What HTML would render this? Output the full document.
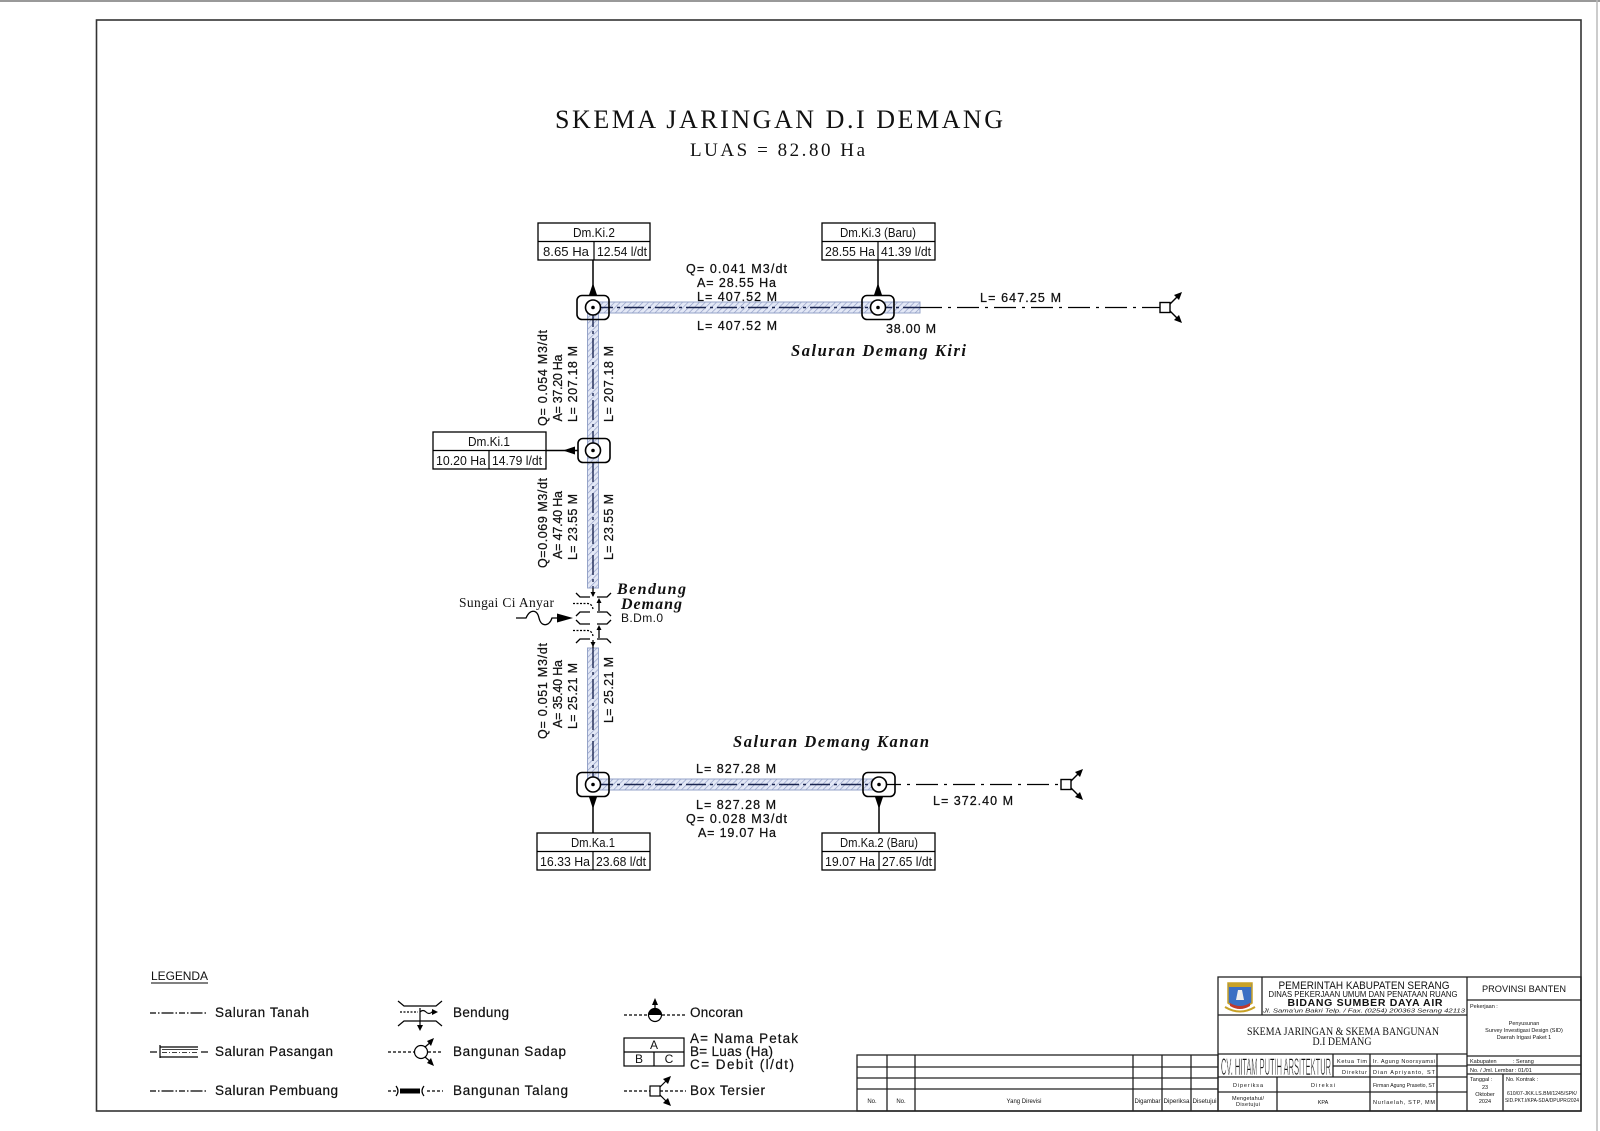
<!DOCTYPE html>
<html><head><meta charset="utf-8"><style>
html,body{margin:0;padding:0;background:#fff;}
svg{display:block;}
text{font-family:"Liberation Sans",sans-serif;fill:#111;}
.s{font-family:"Liberation Serif",serif;}
.it{font-family:"Liberation Serif",serif;font-style:italic;font-weight:bold;}
</style></head><body>
<svg width="1600" height="1131" viewBox="0 0 1600 1131" xmlns="http://www.w3.org/2000/svg">
<defs>
<pattern id="h" width="4" height="4" patternUnits="userSpaceOnUse" patternTransform="rotate(45)">
<rect width="4" height="4" fill="#e3e8f6"/><line x1="0" y1="0" x2="0" y2="4" stroke="#8f9cc4" stroke-width="1.3"/></pattern>
</defs>
<rect width="1600" height="1131" fill="#fff"/>
<line x1="0" y1="1" x2="1600" y2="1" stroke="#999" stroke-width="2"/>
<line x1="1597" y1="0" x2="1597" y2="1131" stroke="#bbb" stroke-width="1.5"/>
<!-- frame -->
<rect x="96.5" y="20" width="1484.5" height="1091" fill="none" stroke="#333" stroke-width="1.6"/>

<!-- title -->
<text class="s" x="555" y="128" font-size="26" textLength="448" lengthAdjust="spacing">SKEMA JARINGAN D.I DEMANG</text>
<text class="s" x="690" y="156" font-size="19" textLength="175" lengthAdjust="spacing">LUAS = 82.80 Ha</text>

<!-- channels -->
<rect x="592" y="302" width="328" height="11" fill="url(#h)" stroke="#95a3c8" stroke-width="1"/>
<rect x="587.5" y="307" width="11" height="281" fill="url(#h)" stroke="#95a3c8" stroke-width="1"/>
<rect x="587.5" y="648" width="11" height="137" fill="url(#h)" stroke="#95a3c8" stroke-width="1"/>
<rect x="593" y="779" width="286" height="11" fill="url(#h)" stroke="#95a3c8" stroke-width="1"/>
<g stroke="#1a2550" stroke-width="1.4" fill="none" stroke-dasharray="20 4 3 4">
<line x1="593" y1="307.5" x2="920" y2="307.5"/>
<line x1="593" y1="307" x2="593" y2="588"/>
<line x1="593" y1="648" x2="593" y2="784"/>
<line x1="593" y1="784.5" x2="879" y2="784.5"/>
</g>
<g stroke="#000" stroke-width="1.2" fill="none" stroke-dasharray="22 6 3 6">
<line x1="920" y1="307.5" x2="1160" y2="307.5"/>
<line x1="879" y1="784.5" x2="1061" y2="784.5"/>
</g>

<!-- nodes -->
<g stroke="#000" stroke-width="1.6">
<rect x="577" y="295.5" width="32" height="24" rx="5" fill="none"/>
<rect x="862" y="295.5" width="32" height="24" rx="5" fill="none"/>
<rect x="578" y="438.5" width="32" height="24" rx="5" fill="none"/>
<rect x="577" y="772.5" width="32" height="24" rx="5" fill="none"/>
<rect x="863" y="772.5" width="32" height="24" rx="5" fill="none"/>
<circle cx="593" cy="307.5" r="7.5" fill="#fff"/>
<circle cx="878" cy="307.5" r="7.5" fill="#fff"/>
<circle cx="593" cy="450.5" r="7.5" fill="#fff"/>
<circle cx="593" cy="784.5" r="7.5" fill="#fff"/>
<circle cx="879" cy="784.5" r="7.5" fill="#fff"/>
</g>
<g fill="#000">
<circle cx="593" cy="307.5" r="1.8"/><circle cx="878" cy="307.5" r="1.8"/><circle cx="593" cy="450.5" r="1.8"/><circle cx="593" cy="784.5" r="1.8"/><circle cx="879" cy="784.5" r="1.8"/>
</g>

<!-- arrows to boxes -->
<g stroke="#000" stroke-width="1.5">
<line x1="593" y1="260" x2="593" y2="295"/>
<line x1="878" y1="260" x2="878" y2="295"/>
<line x1="546" y1="450.5" x2="578" y2="450.5"/>
<line x1="593" y1="797" x2="593" y2="833"/>
<line x1="879" y1="797" x2="879" y2="833"/>
</g>
<g fill="#000">
<polygon points="593,283 589,295 597,295"/>
<polygon points="878,283 874,295 882,295"/>
<polygon points="563,450.5 575,446.5 575,454.5"/>
<polygon points="593,809 589,797 597,797"/>
<polygon points="879,809 875,797 883,797"/>
</g>

<!-- boxes -->
<g stroke="#000" stroke-width="1.3" fill="#fff">
<rect x="538" y="223" width="112" height="37"/>
<rect x="822" y="223" width="113" height="37"/>
<rect x="433" y="432" width="113" height="37"/>
<rect x="537" y="833" width="113" height="37"/>
<rect x="822" y="833" width="113" height="37"/>
</g>
<g stroke="#000" stroke-width="1.2">
<line x1="538" y1="241.5" x2="650" y2="241.5"/><line x1="594" y1="241.5" x2="594" y2="260"/>
<line x1="822" y1="241.5" x2="935" y2="241.5"/><line x1="878" y1="241.5" x2="878" y2="260"/>
<line x1="433" y1="450.5" x2="546" y2="450.5"/><line x1="489" y1="450.5" x2="489" y2="469"/>
<line x1="537" y1="851.5" x2="650" y2="851.5"/><line x1="593" y1="851.5" x2="593" y2="870"/>
<line x1="822" y1="851.5" x2="935" y2="851.5"/><line x1="879" y1="851.5" x2="879" y2="870"/>
</g>
<g font-size="13" text-anchor="middle">
<text x="594" y="237" textLength="42" lengthAdjust="spacingAndGlyphs">Dm.Ki.2</text>
<text x="566" y="256" textLength="46" lengthAdjust="spacingAndGlyphs">8.65 Ha</text>
<text x="622" y="256" textLength="50" lengthAdjust="spacingAndGlyphs">12.54 l/dt</text>
<text x="878" y="237" textLength="76" lengthAdjust="spacingAndGlyphs">Dm.Ki.3 (Baru)</text>
<text x="850" y="256" textLength="50" lengthAdjust="spacingAndGlyphs">28.55 Ha</text>
<text x="906" y="256" textLength="50" lengthAdjust="spacingAndGlyphs">41.39 l/dt</text>
<text x="489" y="446" textLength="42" lengthAdjust="spacingAndGlyphs">Dm.Ki.1</text>
<text x="461" y="465" textLength="50" lengthAdjust="spacingAndGlyphs">10.20 Ha</text>
<text x="517" y="465" textLength="50" lengthAdjust="spacingAndGlyphs">14.79 l/dt</text>
<text x="593" y="847" textLength="44" lengthAdjust="spacingAndGlyphs">Dm.Ka.1</text>
<text x="565" y="866" textLength="50" lengthAdjust="spacingAndGlyphs">16.33 Ha</text>
<text x="621" y="866" textLength="50" lengthAdjust="spacingAndGlyphs">23.68 l/dt</text>
<text x="879" y="847" textLength="78" lengthAdjust="spacingAndGlyphs">Dm.Ka.2 (Baru)</text>
<text x="850" y="866" textLength="50" lengthAdjust="spacingAndGlyphs">19.07 Ha</text>
<text x="907" y="866" textLength="50" lengthAdjust="spacingAndGlyphs">27.65 l/dt</text>
</g>

<!-- box tersier -->
<g stroke="#000" stroke-width="1.4" fill="#fff">
<rect x="1160" y="302.5" width="10" height="10"/>
<rect x="1061" y="779.5" width="10" height="10"/>
<line x1="1170" y1="304" x2="1178" y2="296"/><line x1="1170" y1="311" x2="1178" y2="319"/>
<line x1="1071" y1="781" x2="1079" y2="773"/><line x1="1071" y1="788" x2="1079" y2="796"/>
</g>
<g fill="#000">
<polygon points="1182,292 1174,295 1179,300"/><polygon points="1182,323 1174,320 1179,315"/>
<polygon points="1083,769 1075,772 1080,777"/><polygon points="1083,800 1075,797 1080,792"/>
</g>

<!-- labels -->
<g font-size="12.5" stroke="#111" stroke-width="0.25">
<text x="686" y="273" textLength="101" lengthAdjust="spacing">Q= 0.041 M3/dt</text>
<text x="697" y="287" textLength="79" lengthAdjust="spacing">A= 28.55 Ha</text>
<text x="697" y="301" textLength="80" lengthAdjust="spacing">L= 407.52 M</text>
<text x="697" y="330" textLength="80" lengthAdjust="spacing">L= 407.52 M</text>
<text x="886" y="333" textLength="50" lengthAdjust="spacing">38.00 M</text>
<text x="980" y="302" textLength="81" lengthAdjust="spacing">L= 647.25 M</text>
<text x="696" y="773" textLength="80" lengthAdjust="spacing">L= 827.28 M</text>
<text x="696" y="809" textLength="80" lengthAdjust="spacing">L= 827.28 M</text>
<text x="686" y="823" textLength="101" lengthAdjust="spacing">Q= 0.028 M3/dt</text>
<text x="698" y="837" textLength="78" lengthAdjust="spacing">A= 19.07 Ha</text>
<text x="933" y="805" textLength="80" lengthAdjust="spacing">L= 372.40 M</text>
<g text-anchor="middle">
<text transform="translate(547,378) rotate(-90)" textLength="96" lengthAdjust="spacing">Q= 0.054 M3/dt</text>
<text transform="translate(562,388) rotate(-90)" textLength="67" lengthAdjust="spacing">A= 37.20 Ha</text>
<text transform="translate(577,384) rotate(-90)" textLength="76" lengthAdjust="spacing">L= 207.18 M</text>
<text transform="translate(613,384) rotate(-90)" textLength="76" lengthAdjust="spacing">L= 207.18 M</text>
<text transform="translate(547,523) rotate(-90)" textLength="90" lengthAdjust="spacing">Q=0.069 M3/dt</text>
<text transform="translate(562,525) rotate(-90)" textLength="68" lengthAdjust="spacing">A= 47.40 Ha</text>
<text transform="translate(577,527) rotate(-90)" textLength="66" lengthAdjust="spacing">L= 23.55 M</text>
<text transform="translate(613,527) rotate(-90)" textLength="66" lengthAdjust="spacing">L= 23.55 M</text>
<text transform="translate(547,691) rotate(-90)" textLength="96" lengthAdjust="spacing">Q= 0.051 M3/dt</text>
<text transform="translate(562,694) rotate(-90)" textLength="68" lengthAdjust="spacing">A= 35.40 Ha</text>
<text transform="translate(577,696) rotate(-90)" textLength="66" lengthAdjust="spacing">L= 25.21 M</text>
<text transform="translate(613,690) rotate(-90)" textLength="66" lengthAdjust="spacing">L= 25.21 M</text>
</g>
</g>
<text class="it" x="791" y="356" font-size="16.5" textLength="175" lengthAdjust="spacing">Saluran Demang Kiri</text>
<text class="it" x="733" y="747" font-size="16.5" textLength="196" lengthAdjust="spacing">Saluran Demang Kanan</text>
<text class="it" x="617" y="594" font-size="16" textLength="69" lengthAdjust="spacing">Bendung</text>
<text class="it" x="621" y="609" font-size="16" textLength="61" lengthAdjust="spacing">Demang</text>
<text x="621" y="622" font-size="12" textLength="42" lengthAdjust="spacing">B.Dm.0</text>
<text class="s" x="459" y="607" font-size="13.5" textLength="95" lengthAdjust="spacing">Sungai Ci Anyar</text>

<!-- bendung symbol -->
<g stroke="#000" stroke-width="1.3" fill="none">
<path d="M576,593 L580,597 L590,597"/><path d="M597,597 L607,597 L611,593"/>
<path d="M576,616 L580,612 L590,612"/><path d="M597,612 L607,612 L611,616"/>
<path d="M576,620 L580,624 L590,624"/><path d="M597,624 L607,624 L611,620"/>
<path d="M576,643 L580,639 L590,639"/><path d="M597,639 L607,639 L611,643"/>
<path d="M573,603.5 L588,603.5 Q592,604 593,609" stroke-dasharray="2 1.5"/>
<path d="M573,630.5 L588,630.5 Q592,631 593,636" stroke-dasharray="2 1.5"/>
<line x1="599" y1="611" x2="599" y2="601"/>
<line x1="599" y1="638" x2="599" y2="628"/>
<line x1="593" y1="588" x2="593" y2="596"/>
<line x1="593" y1="640" x2="593" y2="648"/>
<path d="M516,618 L526,618 C530,609 537,609 539,618 C541,627 549,627 552,618 L560,618"/>
</g>
<g fill="#000">
<polygon points="599,598 596.5,603 601.5,603"/><polygon points="599,625 596.5,630 601.5,630"/>
<polygon points="593,597 590.5,592 595.5,592"/><polygon points="593,647 590.5,642 595.5,642"/>
<polygon points="573,618 557,613.5 557,622.5"/>
</g>

<!-- LEGEND -->
<text x="151" y="980" font-size="12" textLength="57" lengthAdjust="spacing">LEGENDA</text>
<line x1="151" y1="983" x2="208" y2="983" stroke="#000" stroke-width="1"/>
<g font-size="13.5" stroke="#111" stroke-width="0.2">
<text x="215" y="1017" textLength="94" lengthAdjust="spacing">Saluran  Tanah</text>
<text x="215" y="1056" textLength="118" lengthAdjust="spacing">Saluran  Pasangan</text>
<text x="215" y="1095" textLength="123" lengthAdjust="spacing">Saluran  Pembuang</text>
<text x="453" y="1017" textLength="56" lengthAdjust="spacing">Bendung</text>
<text x="453" y="1056" textLength="113" lengthAdjust="spacing">Bangunan  Sadap</text>
<text x="453" y="1095" textLength="115" lengthAdjust="spacing">Bangunan  Talang</text>
<text x="690" y="1017" textLength="53" lengthAdjust="spacing">Oncoran</text>
<text x="690" y="1043" textLength="108" lengthAdjust="spacing">A=  Nama  Petak</text>
<text x="690" y="1056" textLength="83" lengthAdjust="spacing">B=  Luas  (Ha)</text>
<text x="690" y="1069" textLength="104" lengthAdjust="spacing">C=  Debit  (l/dt)</text>
<text x="690" y="1095" textLength="75" lengthAdjust="spacing">Box  Tersier</text>
</g>
<g stroke="#000" stroke-width="1.2" fill="none">
<line x1="150" y1="1013" x2="208" y2="1013" stroke-dasharray="6 2 1.5 2 12 2 1.5 2"/>
<line x1="150" y1="1091" x2="208" y2="1091" stroke-dasharray="6 2 1.5 2 12 2 1.5 2"/>
<line x1="150" y1="1052" x2="157" y2="1052"/><line x1="201" y1="1052" x2="208" y2="1052"/>
<path d="M160,1047 L198,1047 M160,1057 L198,1057 M160,1045 L160,1058"/>
<line x1="162" y1="1049.5" x2="198" y2="1049.5" stroke-width="0.8"/>
<line x1="162" y1="1052.5" x2="198" y2="1052.5" stroke-dasharray="5 2 1 2" stroke-width="0.8"/>
<!-- bendung legend -->
<path d="M398,1001 L404,1006 L436,1006 L442,1001"/>
<path d="M398,1026 L404,1021 L436,1021 L442,1026"/>
<line x1="400" y1="1012" x2="418" y2="1012" stroke-dasharray="2 1.5"/>
<path d="M420,1012 q3,-3 6,0 t6,0 l4,0"/>
<line x1="420" y1="1008" x2="420" y2="1028"/>
<!-- sadap legend -->
<line x1="388" y1="1052" x2="414" y2="1052" stroke-dasharray="3 2"/>
<line x1="428" y1="1052" x2="443" y2="1052" stroke-dasharray="3 2"/>
<circle cx="421" cy="1052" r="6.5" fill="#fff"/>
<line x1="425" y1="1047" x2="432" y2="1041"/><line x1="425" y1="1057" x2="432" y2="1063"/>
<!-- talang legend -->
<line x1="388" y1="1091" x2="396" y2="1091" stroke-dasharray="3 2"/>
<path d="M396,1086 q4,5 0,10 M424,1086 q-4,5 0,10"/>
<line x1="427" y1="1091" x2="443" y2="1091" stroke-dasharray="3 2"/>
<!-- oncoran legend -->
<line x1="624" y1="1015" x2="648" y2="1015" stroke-dasharray="3 2"/>
<line x1="662" y1="1015" x2="686" y2="1015" stroke-dasharray="3 2"/>
<circle cx="655" cy="1015" r="6.5" fill="#fff"/>
<line x1="655" y1="1008" x2="655" y2="1001"/>
<!-- abc box -->
<rect x="624" y="1038" width="60" height="28"/>
<line x1="624" y1="1052" x2="684" y2="1052"/><line x1="654" y1="1052" x2="654" y2="1066"/>
<!-- box tersier legend -->
<line x1="624" y1="1091" x2="650" y2="1091" stroke-dasharray="3 2"/>
<line x1="660" y1="1091" x2="686" y2="1091" stroke-dasharray="3 2"/>
<rect x="650" y="1086" width="10" height="10" fill="#fff"/>
<line x1="660" y1="1087" x2="668" y2="1079"/><line x1="660" y1="1095" x2="668" y2="1103"/>
</g>
<g fill="#000">
<rect x="400" y="1088.5" width="20" height="5"/>
<polygon points="420,1031 417,1025 423,1025"/>
<polygon points="438,1012 432,1009 432,1015"/>
<polygon points="434,1038 427,1041 431,1046"/><polygon points="434,1066 427,1063 431,1058"/>
<path d="M648.5,1015 A6.5,6.5 0 0 1 661.5,1015 Z"/>
<polygon points="655,998 652,1005 658,1005"/>
<polygon points="671,1076 663,1079 668,1084"/><polygon points="671,1106 663,1103 668,1098"/>
</g>
<g font-size="12" text-anchor="middle">
<text x="654" y="1049">A</text><text x="639" y="1063">B</text><text x="669" y="1063">C</text>
</g>

<!-- revision table -->
<g stroke="#222" stroke-width="1.3" fill="none">
<rect x="857" y="1055" width="361" height="56"/>
<line x1="857" y1="1067" x2="1218" y2="1067"/>
<line x1="857" y1="1078" x2="1218" y2="1078"/>
<line x1="857" y1="1089" x2="1218" y2="1089"/>
<line x1="887" y1="1055" x2="887" y2="1111"/>
<line x1="915" y1="1055" x2="915" y2="1111"/>
<line x1="1133" y1="1055" x2="1133" y2="1111"/>
<line x1="1162" y1="1055" x2="1162" y2="1111"/>
<line x1="1191" y1="1055" x2="1191" y2="1111"/>
</g>
<g font-size="6" text-anchor="middle" fill="#333">
<text x="872" y="1103">No.</text><text x="901" y="1103">No.</text>
<text x="1024" y="1103">Yang Direvisi</text>
<text x="1147.5" y="1103" textLength="26" lengthAdjust="spacingAndGlyphs">Digambar</text>
<text x="1176.5" y="1103" textLength="26" lengthAdjust="spacingAndGlyphs">Diperiksa</text>
<text x="1204.5" y="1103" textLength="24" lengthAdjust="spacingAndGlyphs">Disetujui</text>
</g>

<!-- title block -->
<g stroke="#222" stroke-width="1.3" fill="none">
<rect x="1218" y="977" width="363" height="134"/>
<line x1="1467" y1="977" x2="1467" y2="1111"/>
<line x1="1262" y1="977" x2="1262" y2="1015"/>
<line x1="1218" y1="1015" x2="1467" y2="1015"/>
<line x1="1218" y1="1054" x2="1467" y2="1054"/>
<line x1="1333" y1="1066" x2="1467" y2="1066"/>
<line x1="1218" y1="1077" x2="1467" y2="1077"/>
<line x1="1218" y1="1092" x2="1467" y2="1092"/>
<line x1="1333" y1="1054" x2="1333" y2="1077"/>
<line x1="1370" y1="1054" x2="1370" y2="1111"/>
<line x1="1437" y1="1054" x2="1437" y2="1111"/>
<line x1="1277" y1="1077" x2="1277" y2="1111"/>
<line x1="1467" y1="1000" x2="1581" y2="1000"/>
<line x1="1467" y1="1056" x2="1581" y2="1056"/>
<line x1="1467" y1="1065" x2="1581" y2="1065"/>
<line x1="1467" y1="1074" x2="1581" y2="1074"/>
<line x1="1503" y1="1074" x2="1503" y2="1111"/>
</g>
<!-- logo -->
<g>
<path d="M1228,983 L1252,983 L1252,1003 Q1240,1012 1228,1003 Z" fill="#3a6fc4" stroke="#c9a227" stroke-width="1.5"/>
<rect x="1229" y="983" width="22" height="4" fill="#c9a227"/>
<path d="M1236,1000 L1238,990 L1242,990 L1244,1000 Z" fill="#eee"/>
<path d="M1230,1003 Q1240,1009 1250,1003 L1250,1006 Q1240,1012 1230,1006 Z" fill="#c0392b"/>
<path d="M1225,1007 Q1240,1016 1255,1007" stroke="#c9a227" stroke-width="2" fill="none"/>
</g>
<g text-anchor="middle">
<text x="1364" y="989" font-size="11" textLength="171" lengthAdjust="spacingAndGlyphs">PEMERINTAH KABUPATEN SERANG</text>
<text x="1363" y="997" font-size="8" textLength="189" lengthAdjust="spacingAndGlyphs">DINAS PEKERJAAN UMUM DAN PENATAAN RUANG</text>
<text x="1365" y="1006" font-size="10.5" font-weight="bold" textLength="155" lengthAdjust="spacing">BIDANG SUMBER DAYA AIR</text>
<text x="1364" y="1012.5" font-size="5.5" font-style="italic" textLength="202" lengthAdjust="spacingAndGlyphs" fill="#555">Jl. Sama'un Bakri Telp. / Fax. (0254) 200363 Serang 42113</text>
<text class="s" x="1343" y="1035" font-size="11.5" textLength="192" lengthAdjust="spacingAndGlyphs">SKEMA JARINGAN &amp; SKEMA BANGUNAN</text>
<text class="s" x="1342" y="1045" font-size="11.5" textLength="59" lengthAdjust="spacingAndGlyphs">D.I DEMANG</text>
</g>
<text x="1221" y="1075" font-size="24" textLength="110" lengthAdjust="spacingAndGlyphs" stroke="#fff" stroke-width="0.6">CV. HITAM PUTIH ARSITEKTUR</text>
<g font-size="5.5" fill="#444">
<text x="1337" y="1063" textLength="30" lengthAdjust="spacing">Ketua Tim</text>
<text x="1373" y="1063" textLength="62" lengthAdjust="spacing">Ir. Agung Noorsyamsi</text>
<text x="1342" y="1074" textLength="25" lengthAdjust="spacing">Direktur</text>
<text x="1373" y="1074" textLength="62" lengthAdjust="spacing">Dian Apriyanto, ST</text>
<text x="1373" y="1087" textLength="62" lengthAdjust="spacingAndGlyphs">Firman Agung Prasetio, ST</text>
<text x="1373" y="1104" textLength="62" lengthAdjust="spacing">Nurlaelah, STP, MM</text>
<g text-anchor="middle">
<text x="1248" y="1087" textLength="30" lengthAdjust="spacing">Diperiksa</text>
<text x="1323" y="1087" textLength="24" lengthAdjust="spacing">Direksi</text>
<text x="1248" y="1100" textLength="32" lengthAdjust="spacing">Mengetahui/</text>
<text x="1248" y="1106" textLength="24" lengthAdjust="spacing">Disetujui</text>
<text x="1323" y="1104">KPA</text>
</g>
</g>
<g font-size="5.5" fill="#444">
<text x="1524" y="992" font-size="9" text-anchor="middle" fill="#222" textLength="84" lengthAdjust="spacingAndGlyphs">PROVINSI BANTEN</text>
<text x="1470" y="1008">Pekerjaan :</text>
<g text-anchor="middle">
<text x="1524" y="1025">Penyusunan</text>
<text x="1524" y="1032">Survey Investigasi Design (SID)</text>
<text x="1524" y="1039">Daerah Irigasi Paket 1</text>
<text x="1485" y="1089">23</text>
<text x="1485" y="1096">Oktober</text>
<text x="1485" y="1103">2024</text>
<text x="1542" y="1095" font-size="5" textLength="70" lengthAdjust="spacingAndGlyphs">610/07-JKK.LS.BM/1245/SPK/</text>
<text x="1542" y="1102" font-size="5" textLength="74" lengthAdjust="spacingAndGlyphs">SID.PKT.I/KPA-SDA/DPUPR/2024</text>
</g>
<text x="1470" y="1063">Kabupaten</text><text x="1513" y="1063">: Serang</text>
<text x="1470" y="1072">No. / Jml. Lembar : 01/01</text>
<text x="1470" y="1081">Tanggal :</text>
<text x="1506" y="1081">No. Kontrak :</text>
</g>
</svg>
</body></html>
